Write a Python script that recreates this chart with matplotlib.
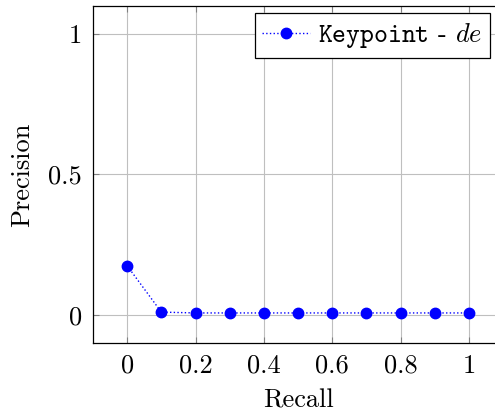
import numpy as np
import matplotlib
matplotlib.use('Agg')
from matplotlib import pyplot as plt

##
recall = [0, 0.1, 0.2, 0.3, 0.4, 0.5, 0.6, 0.7, 0.8, 0.9, 1.0]
precision = [0.175, 0.01, 0.007, 0.007, 0.007, 0.007, 0.007, 0.007, 0.007, 0.007, 0.007]
x_ticks = [0, 0.2, 0.4, 0.6, 0.8, 1]
x_labels = ['0', '0.2', '0.4', '0.6', '0.8', '1']
y_ticks = [0, 0.5, 1]
y_labels = ['0', '0.5', '1']

plt.rcParams['font.family'] = 'cmr10'
plt.rcParams['mathtext.fontset'] = 'cm'
plt.rcParams['axes.unicode_minus'] = False
plt.rcParams['font.size'] = 19

##
fig = plt.figure(figsize=(4.95, 4.16), dpi=100)
ax = fig.add_axes([93 / 495, 1 - 343 / 416, 410 / 495, 337 / 416])  # right edge runs past the figure, like the reference
ax.plot(recall, precision, color='b', linestyle=':', linewidth=1, marker='o',
        markersize=7.5, label=r'$\mathtt{Keypoint}$ - $de$')
ax.set_xlim(-0.1, 1.1)
ax.set_ylim(-0.1, 1.1)
ax.set_xticks(x_ticks)
ax.set_xticklabels(x_labels)
ax.set_yticks(y_ticks)
ax.set_yticklabels(y_labels)
ax.grid(True, color='#bfbfbf', linewidth=0.8)
ax.tick_params(direction='in', top=True, right=True, color='#808080', length=4, pad=8)
for s in ax.spines.values():
    s.set_linewidth(0.9)
ax.set_xlabel('Recall', labelpad=8)
ax.set_ylabel('Precision', labelpad=10)

leg = ax.legend(loc='upper right', bbox_to_anchor=(490 / 495, 1 - 13 / 416),
                bbox_transform=fig.transFigure, fancybox=False, edgecolor='black',
                framealpha=1, borderpad=0.3, handlelength=1.8, handletextpad=0.3,
                borderaxespad=0)
leg.get_frame().set_linewidth(0.9)
plt.savefig('out.png', dpi=100)
